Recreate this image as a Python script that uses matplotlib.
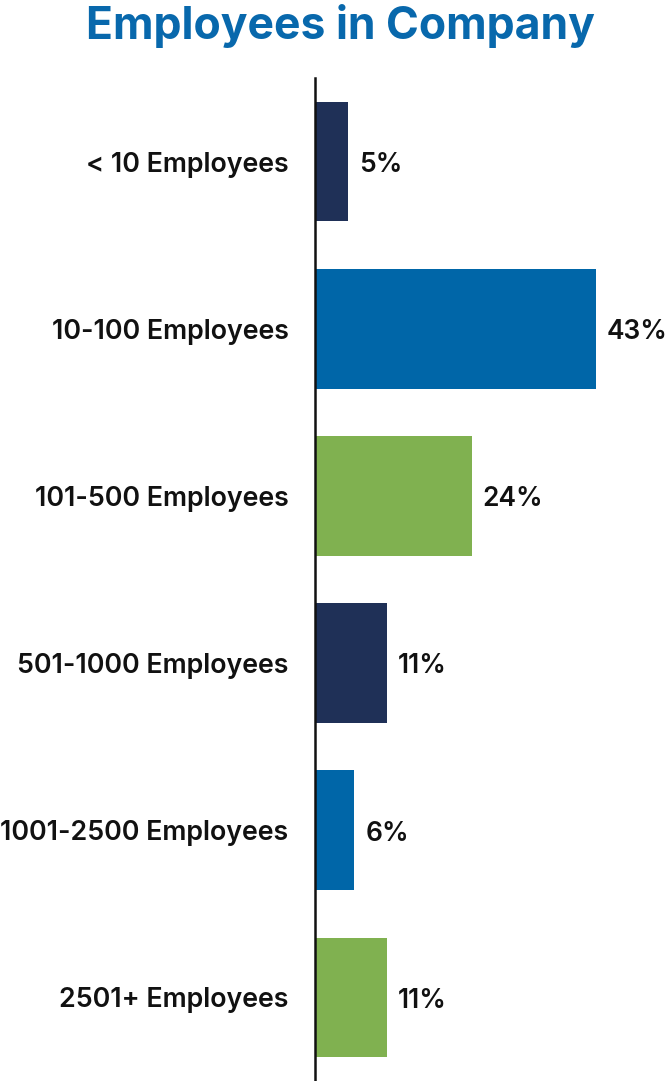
import matplotlib
matplotlib.use('Agg')
import matplotlib.pyplot as plt

# Company size breakdown
categories = ['< 10 Employees', '10-100 Employees', '101-500 Employees',
              '501-1000 Employees', '1001-2500 Employees', '2501+ Employees']
shares = [5, 43, 24, 11, 6, 11]
colors = ['#1f3057', '#0066a8', '#80b150', '#1f3057', '#0066a8', '#80b150']

plt.rcParams['font.family'] = ['Inter', 'DejaVu Sans']

fig = plt.figure(figsize=(6.67, 10.81), dpi=100)
ax = fig.add_axes([315 / 667, 0, 352 / 667, 1 - 78 / 1081])

ypos = list(range(len(categories)))
ax.barh(ypos, shares, height=0.716, color=colors)
ax.set_xlim(0, 352 / 6.53)
ax.set_ylim(len(categories) - 0.5, -0.5)

for y, v in zip(ypos, shares):
    ax.text(v + 11 / 6.53, y + 0.02, f'{v}%', va='center', ha='left',
            fontsize=19, fontweight='semibold', color='#111111')

ax.set_yticks(ypos)
ax.set_yticklabels(categories, fontsize=19.3, fontweight='semibold', color='#111111')
ax.tick_params(axis='y', length=0, pad=19)
ax.set_xticks([])
for s in ['top', 'right', 'bottom']:
    ax.spines[s].set_visible(False)
ax.spines['left'].set_linewidth(1.8)
ax.spines['left'].set_color('#111111')

fig.text(340 / 667, 1 - 26 / 1081, 'Employees in Company', ha='center', va='center',
         fontsize=32, fontweight='bold', color='#0868ac')

fig.savefig('out.png', dpi=100)
